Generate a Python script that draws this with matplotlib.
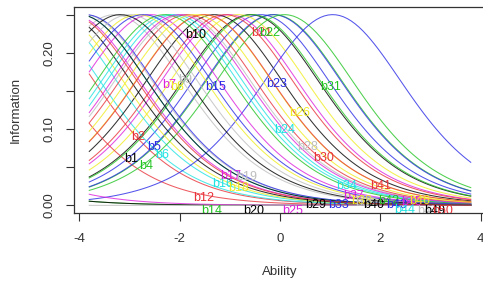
import matplotlib
matplotlib.use("Agg")
import matplotlib.pyplot as plt
import numpy as np

item_names = ["b1", "b2", "b4", "b5", "b6", "b7", "b8", "b9", "b10", "b12",
              "b14", "b15", "b16", "b17", "b18", "b19", "b20", "b21", "b22", "b23",
              "b24", "b25", "b26", "b28", "b29", "b30", "b31", "b33", "b34", "b37",
              "b38", "b39", "b40", "b41", "b42", "b43", "b44", "b45", "b46", "b47",
              "b49", "b50"]
difficulty = [-0.59, -5.06, -0.12, -0.38, -4.94, -1.01, -0.83, -3.30, -1.31, -5.77,
              -9.00, -0.14, -4.61, -4.15, -4.48, -3.90, -9.00, -1.10, 0.09, 1.05,
              -2.10, -8.00, -1.52, -1.94, -4.33, -1.84, -0.55, -3.87, -2.20, -2.57,
              -2.83, -3.00, -3.18, -1.51, -2.30, -2.72, -4.00, -2.00, -1.70, -15.00,
              -4.00, -4.20]

palette = ["#000000", "#e8333a", "#22c422", "#2a2ae6", "#22e2e2", "#dd22dd", "#f0ec22", "#bebebe"]

x_ticks = [-4, -2, 0, 2, 4]
y_ticks = [0.00, 0.05, 0.10, 0.15, 0.20, 0.25]
y_ticklabels = ["0.00", "", "0.10", "", "0.20", ""]


def init_style():
    plt.rcParams["font.family"] = ["Liberation Sans", "DejaVu Sans"]
    plt.rcParams["axes.edgecolor"] = "#333333"
    plt.rcParams["axes.linewidth"] = 0.9


def item_info(theta, b):
    p = 1.0 / (1.0 + np.exp(-(theta - b)))
    return p * (1.0 - p)


init_style()
fig = plt.figure(figsize=(4.83, 2.82), dpi=100)
ax = fig.add_axes([74 / 483, 69 / 282, 412 / 483, 206 / 282])

theta = np.linspace(-3.8, 3.8, 100)
for i, b in enumerate(difficulty):
    ax.plot(theta, item_info(theta, b), color=palette[i % len(palette)],
            lw=0.75, alpha=0.8)

# labels sit on each curve at evenly spaced grid points (like ltm's annot)
pos = np.round(np.linspace(10, 90, len(difficulty))).astype(int) - 1
for i, (name, b) in enumerate(zip(item_names, difficulty)):
    x = theta[pos[i]]
    ax.text(x, item_info(x, b), name, color=palette[i % len(palette)],
            fontsize=9, ha="left", va="top", clip_on=True)

ax.set_xlim(-4.104, 4.104)
ax.set_ylim(-0.01, 0.26)
ax.set_xticks(x_ticks)
ax.set_xticklabels([str(t) for t in x_ticks])
ax.set_yticks(y_ticks)
ax.set_yticklabels(y_ticklabels, rotation=90, va="center")
ax.tick_params(axis="both", direction="out", length=5.5, width=0.8,
               labelsize=9.5, colors="#333333")
ax.tick_params(axis="x", pad=9)
ax.tick_params(axis="y", pad=8)

ax.set_xlabel("Ability", fontsize=9.5, color="#333333")
ax.set_ylabel("Information", fontsize=9.5, color="#333333")
ax.xaxis.set_label_coords(0.5, -0.255)
ax.yaxis.set_label_coords(-0.128, 0.5)

fig.savefig("out.png", dpi=100)
